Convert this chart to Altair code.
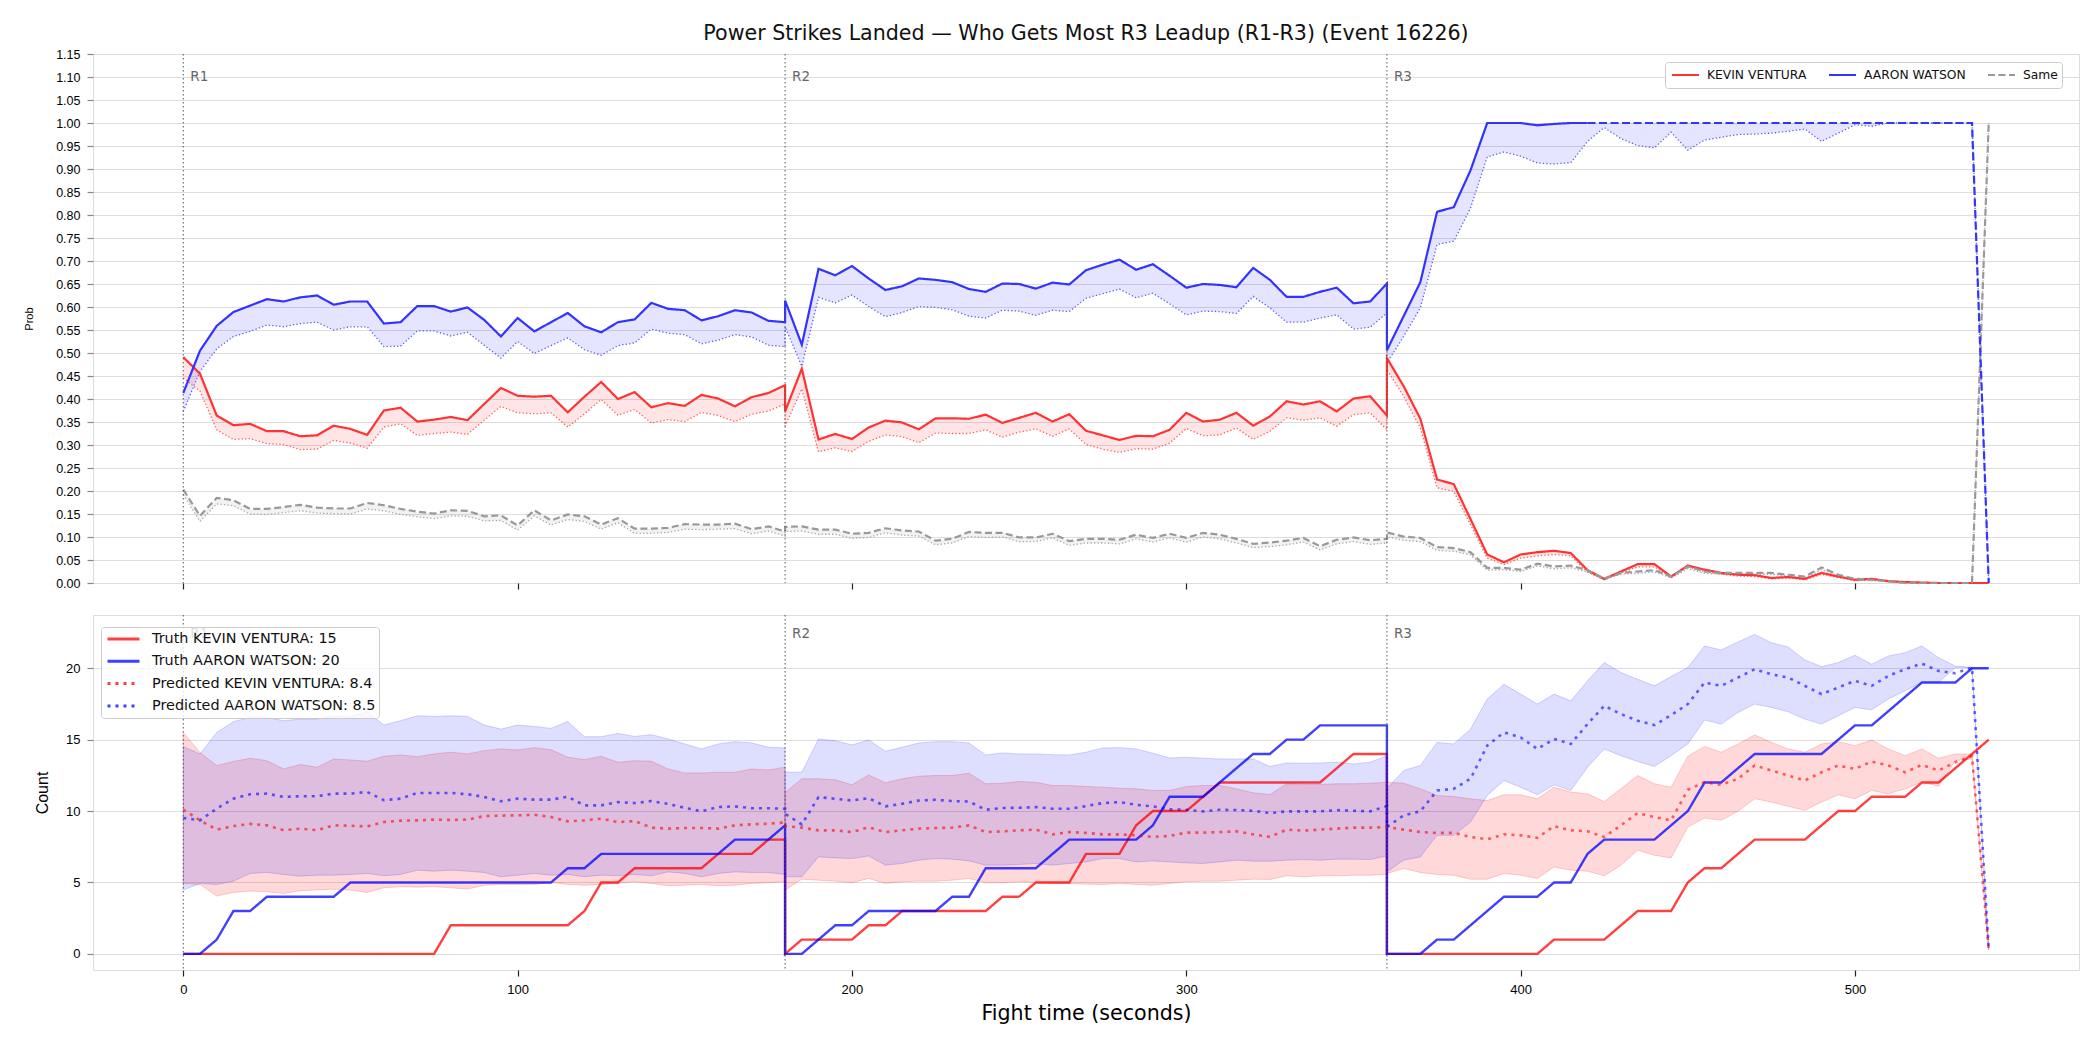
import altair as alt
import pandas as pd

TITLE = "Power Strikes Landed \u2014 Who Gets Most R3 Leadup (R1-R3) (Event 16226)"
FIGHTER_A = "KEVIN VENTURA"
FIGHTER_B = "AARON WATSON"
SAME = "Same"
ROUND_STARTS = [0, 180, 360]
ROUND_NAMES = ["R1", "R2", "R3"]
SAMPLES_PER_ROUND = 37          # each round sampled 0..180 s every 5 s
STEP_S = 5
X_TICKS = [0, 100, 200, 300, 400, 500]
PROB_TICKS = [round(0.05 * k, 2) for k in range(24)]
COUNT_TICKS = [0, 5, 10, 15, 20]
TAIL_START = 420                # from here on the AARON WATSON probability is drawn dashed

LEG_TRUTH_A = "Truth KEVIN VENTURA: 15"
LEG_TRUTH_B = "Truth AARON WATSON: 20"
LEG_PRED_A = "Predicted KEVIN VENTURA: 8.4"
LEG_PRED_B = "Predicted AARON WATSON: 8.5"

# ---------------- probability panel (R1 | R2 | R3) ----------------
kevin_prob = [
    0.491, 0.455, 0.364, 0.343, 0.346, 0.33, 0.33, 0.319, 0.321, 0.342, 0.335, 0.322, 0.375, 0.381, 0.351, 0.355,
    0.361, 0.354, 0.389, 0.424, 0.407, 0.405, 0.407, 0.371, 0.405, 0.437, 0.4, 0.415, 0.382, 0.391, 0.385, 0.409,
    0.401, 0.384, 0.404, 0.413, 0.43,
    0.373, 0.466, 0.312, 0.324, 0.313, 0.338, 0.353, 0.349, 0.334, 0.358, 0.358, 0.357, 0.366, 0.348, 0.359, 0.37,
    0.351, 0.367, 0.331, 0.321, 0.311, 0.32, 0.319, 0.333, 0.37, 0.351, 0.355, 0.37, 0.342, 0.362, 0.395, 0.388,
    0.395, 0.373, 0.401, 0.406, 0.364,
    0.489, 0.428, 0.357, 0.225, 0.215, 0.139, 0.062, 0.045, 0.062, 0.067, 0.07, 0.065, 0.028, 0.009, 0.025, 0.041,
    0.041, 0.014, 0.038, 0.029, 0.022, 0.018, 0.017, 0.011, 0.013, 0.009, 0.022, 0.014, 0.007, 0.009, 0.004, 0.002,
    0.001, 0.0, 0.0, 0.0, 0.0,
]
kevin_prob_low = [
    0.446, 0.417, 0.333, 0.312, 0.314, 0.303, 0.301, 0.29, 0.291, 0.31, 0.304, 0.293, 0.339, 0.346, 0.321, 0.325,
    0.328, 0.323, 0.354, 0.384, 0.37, 0.368, 0.37, 0.339, 0.368, 0.399, 0.365, 0.377, 0.348, 0.355, 0.351, 0.371,
    0.364, 0.351, 0.367, 0.374, 0.389,
    0.341, 0.422, 0.285, 0.294, 0.286, 0.308, 0.322, 0.318, 0.305, 0.326, 0.325, 0.325, 0.333, 0.317, 0.328, 0.335,
    0.319, 0.335, 0.301, 0.291, 0.284, 0.292, 0.291, 0.304, 0.336, 0.32, 0.322, 0.337, 0.312, 0.33, 0.359, 0.354,
    0.359, 0.341, 0.366, 0.37, 0.333,
    0.464, 0.406, 0.337, 0.207, 0.199, 0.127, 0.054, 0.04, 0.054, 0.059, 0.062, 0.059, 0.024, 0.007, 0.022, 0.035,
    0.035, 0.012, 0.035, 0.025, 0.019, 0.015, 0.014, 0.009, 0.011, 0.007, 0.019, 0.012, 0.005, 0.007, 0.003, 0.001,
    0.0, 0.0, 0.0, 0.0, 0.0,
]
aaron_prob = [
    0.413, 0.505, 0.559, 0.589, 0.603, 0.617, 0.612, 0.621, 0.625, 0.605, 0.612, 0.612, 0.564, 0.567, 0.602, 0.602,
    0.59, 0.599, 0.572, 0.536, 0.576, 0.547, 0.567, 0.587, 0.558, 0.545, 0.567, 0.573, 0.609, 0.596, 0.593, 0.571,
    0.58, 0.593, 0.588, 0.57, 0.567,
    0.614, 0.518, 0.683, 0.669, 0.689, 0.662, 0.637, 0.645, 0.662, 0.659, 0.654, 0.639, 0.633, 0.651, 0.65, 0.64,
    0.653, 0.649, 0.68, 0.692, 0.703, 0.681, 0.693, 0.668, 0.642, 0.65, 0.648, 0.643, 0.685, 0.659, 0.622, 0.622,
    0.633, 0.642, 0.608, 0.612, 0.651,
    0.506, 0.58, 0.654, 0.807, 0.817, 0.897, 1.0, 1.0, 1.0, 0.995, 0.998, 1.0, 1.0, 1.0, 1.0, 1.0,
    1.0, 1.0, 1.0, 1.0, 1.0, 1.0, 1.0, 1.0, 1.0, 1.0, 1.0, 1.0, 1.0, 1.0, 1.0, 1.0,
    1.0, 1.0, 1.0, 1.0, 0.0,
]
aaron_prob_low = [
    0.373, 0.46, 0.509, 0.536, 0.547, 0.561, 0.557, 0.564, 0.567, 0.55, 0.557, 0.557, 0.514, 0.515, 0.548, 0.548,
    0.537, 0.545, 0.517, 0.489, 0.525, 0.499, 0.516, 0.533, 0.507, 0.495, 0.516, 0.522, 0.552, 0.543, 0.54, 0.52,
    0.528, 0.54, 0.535, 0.517, 0.514,
    0.557, 0.471, 0.621, 0.609, 0.626, 0.601, 0.579, 0.588, 0.601, 0.599, 0.594, 0.58, 0.576, 0.593, 0.591, 0.582,
    0.593, 0.59, 0.619, 0.629, 0.639, 0.62, 0.63, 0.607, 0.583, 0.591, 0.59, 0.586, 0.623, 0.598, 0.567, 0.567,
    0.576, 0.583, 0.552, 0.556, 0.587,
    0.478, 0.536, 0.598, 0.736, 0.743, 0.815, 0.926, 0.937, 0.928, 0.913, 0.911, 0.914, 0.96, 0.99, 0.966, 0.951,
    0.946, 0.98, 0.941, 0.963, 0.969, 0.975, 0.976, 0.978, 0.982, 0.987, 0.96, 0.978, 0.996, 0.993, 1.0, 1.0,
    1.0, 1.0, 1.0, 1.0, 0.0,
]
same_prob = [
    0.203, 0.146, 0.185, 0.18, 0.161, 0.161, 0.165, 0.17, 0.164, 0.162, 0.162, 0.174, 0.169, 0.161, 0.155, 0.151,
    0.158, 0.157, 0.145, 0.147, 0.125, 0.158, 0.136, 0.149, 0.145, 0.127, 0.141, 0.118, 0.118, 0.12, 0.128, 0.127,
    0.127, 0.129, 0.117, 0.123, 0.112,
    0.122, 0.123, 0.116, 0.116, 0.107, 0.109, 0.119, 0.114, 0.112, 0.092, 0.096, 0.111, 0.109, 0.109, 0.099, 0.099,
    0.107, 0.091, 0.096, 0.096, 0.094, 0.105, 0.098, 0.107, 0.098, 0.109, 0.105, 0.096, 0.085, 0.088, 0.092, 0.098,
    0.08, 0.094, 0.099, 0.093, 0.096,
    0.11, 0.101, 0.098, 0.078, 0.076, 0.067, 0.033, 0.033, 0.029, 0.042, 0.036, 0.038, 0.028, 0.009, 0.022, 0.025,
    0.028, 0.014, 0.036, 0.025, 0.022, 0.022, 0.022, 0.022, 0.018, 0.014, 0.034, 0.018, 0.009, 0.007, 0.004, 0.0,
    0.0, 0.0, 0.0, 0.0, 1.0,
]
same_prob_low = [
    0.192, 0.134, 0.172, 0.168, 0.15, 0.149, 0.153, 0.157, 0.152, 0.151, 0.15, 0.161, 0.157, 0.149, 0.144, 0.14,
    0.146, 0.145, 0.135, 0.136, 0.115, 0.146, 0.126, 0.138, 0.134, 0.117, 0.131, 0.108, 0.108, 0.11, 0.117, 0.116,
    0.117, 0.118, 0.107, 0.113, 0.102,
    0.112, 0.113, 0.106, 0.106, 0.097, 0.099, 0.109, 0.104, 0.102, 0.083, 0.087, 0.101, 0.099, 0.1, 0.09, 0.09,
    0.098, 0.082, 0.087, 0.087, 0.085, 0.096, 0.089, 0.098, 0.089, 0.1, 0.096, 0.087, 0.077, 0.079, 0.083, 0.089,
    0.072, 0.085, 0.09, 0.084, 0.087,
    0.1, 0.093, 0.09, 0.071, 0.069, 0.061, 0.028, 0.029, 0.025, 0.037, 0.031, 0.033, 0.024, 0.007, 0.019, 0.021,
    0.024, 0.011, 0.031, 0.021, 0.019, 0.019, 0.019, 0.019, 0.015, 0.011, 0.029, 0.015, 0.007, 0.005, 0.003, 0.0,
    0.0, 0.0, 0.0, 0.0, 1.0,
]

# ---------------- count panel (R1 | R2 | R3) ----------------
truth_a = [
    0, 0, 0, 0, 0, 0, 0, 0, 0, 0, 0, 0, 0, 0, 0, 0, 2, 2, 2, 2, 2, 2, 2, 2, 3, 5, 5, 6, 6, 6, 6, 6, 7, 7, 7, 8, 8,
    0, 1, 1, 1, 1, 2, 2, 3, 3, 3, 3, 3, 3, 4, 4, 5, 5, 5, 7, 7, 7, 9, 10, 10, 10, 11, 12, 12, 12, 12, 12, 12, 12, 13, 14, 14, 14,
    0, 0, 0, 0, 0, 0, 0, 0, 0, 0, 1, 1, 1, 1, 2, 3, 3, 3, 5, 6, 6, 7, 8, 8, 8, 8, 9, 10, 10, 11, 11, 11, 12, 12, 13, 14, 15,
]
truth_b = [
    0, 0, 1, 3, 3, 4, 4, 4, 4, 4, 5, 5, 5, 5, 5, 5, 5, 5, 5, 5, 5, 5, 5, 6, 6, 7, 7, 7, 7, 7, 7, 7, 7, 8, 8, 8, 9,
    0, 0, 1, 2, 2, 3, 3, 3, 3, 3, 4, 4, 6, 6, 6, 6, 7, 8, 8, 8, 8, 8, 9, 11, 11, 11, 12, 13, 14, 14, 15, 15, 16, 16, 16, 16, 16,
    0, 0, 0, 1, 1, 2, 3, 4, 4, 4, 5, 5, 7, 8, 8, 8, 8, 9, 10, 12, 12, 13, 14, 14, 14, 14, 14, 15, 16, 16, 17, 18, 19, 19, 19, 20, 20,
]
pred_a = [
    10.1, 9.35, 8.7, 8.95, 9.1, 9.0, 8.66, 8.77, 8.66, 9.0, 8.97, 8.92, 9.23, 9.33, 9.35, 9.4, 9.38, 9.4, 9.65, 9.68,
    9.7, 9.74, 9.58, 9.28, 9.35, 9.47, 9.23, 9.3, 8.84, 8.77, 8.81, 8.81, 8.77, 9.0, 9.07, 9.12, 9.2,
    8.95, 8.84, 8.65, 8.65, 8.53, 8.86, 8.53, 8.65, 8.77, 8.81, 8.84, 9.0, 8.53, 8.58, 8.65, 8.7, 8.37, 8.53, 8.47, 8.37,
    8.37, 8.3, 8.19, 8.26, 8.49, 8.49, 8.53, 8.58, 8.37, 8.19, 8.7, 8.63, 8.7, 8.77, 8.84, 8.84, 8.88,
    8.88, 8.7, 8.53, 8.47, 8.47, 8.19, 8.02, 8.37, 8.3, 8.12, 8.95, 8.65, 8.58, 8.19, 9.0, 9.86, 9.58, 9.35, 11.49, 12.02,
    11.84, 12.26, 13.19, 12.84, 12.49, 12.14, 12.72, 13.19, 12.95, 13.47, 13.19, 12.72, 13.23, 12.84, 13.42, 13.84, 0.3,
]
pred_b = [
    9.52, 9.35, 10.17, 10.87, 11.18, 11.22, 10.99, 11.04, 11.04, 11.22, 11.22, 11.34, 10.76, 10.87, 11.27, 11.27, 11.27,
    11.18, 10.99, 10.69, 10.87, 10.8, 10.8, 11.0, 10.4, 10.4, 10.63, 10.56, 10.7, 10.5, 10.23, 9.98, 10.28, 10.33, 10.2,
    10.2, 10.16,
    9.81, 9.07, 10.98, 10.86, 10.74, 10.91, 10.33, 10.51, 10.74, 10.79, 10.7, 10.67, 10.09, 10.21, 10.23, 10.28, 10.16,
    10.16, 10.35, 10.56, 10.63, 10.44, 10.33, 10.12, 10.09, 9.98, 10.09, 10.07, 10.02, 9.86, 9.98, 9.98, 9.98, 10.07,
    10.02, 9.98, 10.35,
    8.88, 9.7, 9.98, 11.44, 11.56, 12.26, 14.58, 15.51, 15.16, 14.35, 15.05, 14.7, 16.09, 17.37, 16.79, 16.33, 16.02,
    16.72, 17.49, 19.0, 18.77, 19.35, 19.93, 19.58, 19.35, 18.77, 18.19, 18.65, 19.12, 18.77, 19.47, 19.93, 20.33,
    19.81, 19.65, 20.05, 0.3,
]
pred_a_hi = [
    15.5, 14.1, 13.19, 13.47, 13.7, 13.53, 12.95, 13.26, 13.07, 13.65, 13.58, 13.49, 13.84, 13.93, 13.81, 14.0, 14.12,
    14.0, 14.23, 14.35, 14.28, 14.44, 14.3, 13.77, 13.6, 13.84, 13.42, 13.53, 13.49, 12.95, 12.67, 12.67, 12.72, 12.72,
    12.95, 12.88, 13.07,
    11.3, 12.26, 12.26, 12.19, 11.84, 12.53, 11.98, 12.26, 12.44, 12.49, 12.49, 12.65, 11.91, 11.95, 12.07, 12.02, 11.79,
    11.79, 11.72, 11.67, 11.6, 11.56, 11.44, 11.44, 11.72, 11.79, 11.79, 11.56, 11.28, 11.16, 11.91, 11.86, 11.86,
    11.91, 11.91, 11.95, 12.02,
    12.02, 11.95, 11.56, 11.09, 11.02, 10.86, 10.74, 11.14, 11.14, 10.86, 11.67, 11.33, 11.21, 10.67, 11.56, 12.49,
    11.91, 11.67, 13.84, 14.53, 14.12, 14.7, 15.33, 14.81, 14.35, 14.12, 14.7, 14.86, 14.58, 14.98, 14.35, 13.88,
    14.35, 13.7, 14.0, 14.0, 0.3,
]
pred_a_lo = [
    4.93, 4.86, 4.05, 4.3, 4.4, 4.35, 4.23, 4.42, 4.47, 4.53, 4.47, 4.3, 4.63, 4.7, 4.67, 4.7, 4.63, 4.53, 4.81, 4.86,
    4.86, 4.86, 5.0, 4.86, 4.81, 4.86, 4.93, 5.05, 4.93, 4.77, 4.81, 4.86, 4.77, 4.81, 4.93, 4.98, 5.05,
    4.47, 5.23, 5.16, 5.09, 4.98, 5.28, 4.93, 5.05, 5.09, 5.09, 5.16, 5.28, 4.98, 4.98, 5.05, 5.0, 4.93, 4.93, 4.88,
    4.86, 4.93, 4.86, 4.81, 4.93, 5.05, 5.09, 5.09, 5.16, 5.23, 5.21, 5.47, 5.4, 5.47, 5.47, 5.51, 5.51, 5.56,
    5.63, 5.98, 5.7, 5.56, 5.51, 5.23, 5.23, 5.63, 5.51, 5.28, 6.09, 5.86, 5.79, 5.47, 6.21, 7.26, 6.91, 6.72, 8.88,
    9.51, 9.35, 9.98, 10.86, 10.63, 10.33, 10.05, 10.63, 11.14, 10.86, 11.44, 11.21, 11.56, 12.02, 11.74, 13.53, 13.65,
    0.3,
]
pred_b_hi = [
    14.53, 14.0, 15.51, 16.26, 16.56, 16.56, 16.33, 16.44, 16.44, 16.67, 16.63, 16.95, 16.02, 16.33, 16.67, 16.63,
    16.67, 16.63, 16.02, 15.74, 16.02, 15.93, 15.79, 16.28, 15.21, 15.21, 15.44, 15.23, 15.35, 15.05, 14.7, 14.35,
    14.7, 14.86, 14.77, 14.47, 14.42,
    12.72, 12.72, 15.05, 14.93, 14.63, 14.98, 14.19, 14.47, 14.77, 14.86, 14.86, 14.77, 13.93, 14.07, 14.0, 14.0, 13.95,
    13.93, 14.12, 14.42, 14.44, 14.35, 14.05, 13.72, 13.77, 13.7, 13.65, 13.65, 13.65, 13.12, 13.37, 13.35, 13.37,
    13.42, 13.3, 13.42, 13.88,
    11.56, 12.84, 13.19, 14.81, 14.7, 15.74, 17.84, 18.88, 18.19, 17.49, 18.19, 17.72, 19.12, 20.4, 19.7, 19.23, 18.77,
    19.42, 20.05, 21.56, 21.28, 21.84, 22.37, 21.79, 21.49, 20.58, 20.12, 20.4, 20.91, 20.28, 20.86, 21.09, 21.56,
    20.74, 20.16, 20.05, 0.3,
]
pred_b_lo = [
    4.47, 4.93, 4.86, 5.09, 5.63, 5.7, 5.56, 5.44, 5.51, 5.51, 5.56, 5.63, 5.47, 5.56, 5.86, 5.79, 5.86, 5.79, 5.7,
    5.4, 5.51, 5.63, 5.51, 5.56, 5.4, 5.51, 5.47, 5.56, 5.47, 5.74, 5.63, 5.4, 5.63, 5.74, 5.7, 5.7, 5.56,
    5.4, 5.4, 6.79, 6.72, 6.67, 6.86, 6.21, 6.33, 6.56, 6.67, 6.63, 6.51, 6.21, 6.21, 6.26, 6.33, 6.21, 6.33, 6.44,
    6.67, 6.67, 6.44, 6.51, 6.44, 6.37, 6.33, 6.44, 6.56, 6.49, 6.49, 6.56, 6.6, 6.56, 6.63, 6.63, 6.6, 6.86,
    5.74, 6.56, 6.79, 8.3, 8.3, 9.23, 11.09, 12.14, 11.67, 11.14, 11.84, 11.44, 13.07, 14.35, 13.88, 13.47, 13.12,
    13.88, 14.7, 16.37, 16.09, 16.91, 17.49, 17.26, 16.95, 16.44, 16.09, 16.67, 17.26, 17.09, 17.84, 18.42, 19.0,
    19.0, 20.05, 20.05, 0.3,
]

# ---------------- colours / styles ----------------
RED, BLUE, GRAY = "#ff0000", "#0000ff", "#808080"
FONT = "DejaVu Sans"
PLOT_W, TOP_H, BOT_H = 1986, 529, 355

times = [s + STEP_S * k for s in ROUND_STARTS for k in range(SAMPLES_PER_ROUND)]
round_of = [n for n in ROUND_NAMES for _ in range(SAMPLES_PER_ROUND)]


def frame(values, **extra):
    d = pd.DataFrame({"i": range(len(values)), "t": times, "round": round_of, "v": values})
    for k, val in extra.items():
        d[k] = val
    return d


def band(lo, hi):
    return pd.DataFrame({"t": times, "round": round_of, "lo": lo, "hi": hi})


XS = alt.Scale(domain=[-27, 567], nice=False, zero=False)


def x_enc(field="t:Q", labels=True):
    return alt.X(field, scale=XS, axis=alt.Axis(
        values=X_TICKS, labels=labels, title="Fight time (seconds)" if labels else None,
        grid=False, domain=False, tickSize=6, tickWidth=1.2, tickColor="#222", labelFontSize=13,
        labelPadding=7, titleFontSize=20.6, titlePadding=7, titleFontWeight="normal", titleFont=FONT))


Y_TOP_SCALE = alt.Scale(domain=[0, 1.15], nice=False, zero=False)
Y_TOP_AXIS = alt.Axis(values=PROB_TICKS, format=".2f", title="Prob", titleFontSize=11, titleFontWeight="normal",
                      titleAngle=270, titleX=-64, titleY=TOP_H / 2, titleBaseline="middle", titleAlign="center",
                      grid=True, domain=False, tickSize=6, tickWidth=1.2, labelFontSize=12.5, labelPadding=7)
Y_BOT_SCALE = alt.Scale(domain=[-1.13, 23.73], nice=False, zero=False)
Y_BOT_AXIS = alt.Axis(values=COUNT_TICKS, title="Count", titleFontSize=16, titleFontWeight="normal",
                      titleAngle=270, titleX=-51, titleY=BOT_H / 2, titleBaseline="middle", titleAlign="center",
                      grid=True, domain=False, tickSize=6, tickWidth=1.2, labelFontSize=13, labelPadding=7)


def yt(field):
    return alt.Y(field, scale=Y_TOP_SCALE, axis=Y_TOP_AXIS)


def yb(field):
    return alt.Y(field, scale=Y_BOT_SCALE, axis=Y_BOT_AXIS)


rounds_df = pd.DataFrame({"t": ROUND_STARTS, "label": ROUND_NAMES})

# ================= TOP PANEL =================
main_top = pd.concat([
    frame(kevin_prob, series=FIGHTER_A),
    frame(aaron_prob, series=FIGHTER_B),
    frame(same_prob, series=SAME),
])
solid_mask = ~((main_top["series"] == FIGHTER_B) & (main_top["round"] == "R3") & (main_top["t"] > TAIL_START))
main_solid = main_top[solid_mask]
b_all = frame(aaron_prob)
b_tail = b_all[(b_all["round"] == "R3") & (b_all["t"] >= TAIL_START)]

top_legend = alt.Legend(
    title=None, orient="none", legendX=1572, legendY=8, direction="horizontal",
    symbolType="stroke", symbolSize=729, symbolStrokeWidth=2, symbolOffset=2, labelFont=FONT, labelFontSize=12.3,
    labelColor="#111", labelOffset=7, labelLimit=400, columnPadding=19, padding=4, clipHeight=18,
    strokeColor="#cccccc", fillColor="#ffffff", cornerRadius=3)

top_color = alt.Color("series:N", scale=alt.Scale(domain=[FIGHTER_A, FIGHTER_B, SAME],
                                                   range=["#ff3333", "#3333ff", "#999999"]), legend=top_legend)
top_dash = alt.StrokeDash("series:N", scale=alt.Scale(domain=[FIGHTER_A, FIGHTER_B, SAME],
                                                       range=[[1, 0], [1, 0], [7, 3.5]]), legend=top_legend)

top_layers = []
for lo, hi, col in [(kevin_prob_low, kevin_prob, RED), (aaron_prob_low, aaron_prob, BLUE),
                    (same_prob_low, same_prob, GRAY)]:
    top_layers.append(alt.Chart(band(lo, hi)).mark_area(color=col, opacity=0.1).encode(
        x=x_enc(labels=False), y=yt("lo:Q"), y2="hi:Q", detail="round:N"))
for lo, col in [(kevin_prob_low, "#ff5c5c"), (aaron_prob_low, "#5c5cff"), (same_prob_low, "#a6a6a6")]:
    top_layers.append(alt.Chart(frame(lo)).mark_line(color=col, strokeWidth=1.3, strokeDash=[1.3, 2.2]).encode(
        x=x_enc(labels=False), y=yt("v:Q"), order="i:Q"))
top_layers.append(alt.Chart(main_solid).mark_line(strokeWidth=2.2).encode(
    x=x_enc(labels=False), y=yt("v:Q"), color=top_color, strokeDash=top_dash, order="i:Q"))
top_layers.append(alt.Chart(b_tail).mark_line(color="#3333ff", strokeWidth=2.2, strokeDash=[8, 3.5]).encode(
    x=x_enc(labels=False), y=yt("v:Q"), order="i:Q"))
top_layers.append(alt.Chart(rounds_df).mark_rule(color="#555555", strokeWidth=1, strokeDash=[1.5, 2.5]).encode(
    x=x_enc(labels=False)))
top_layers.append(alt.Chart(rounds_df).mark_text(align="left", baseline="middle", dx=7, fontSize=13.5,
                                                 color="#666666", font=FONT).encode(
    x=x_enc(labels=False), y=alt.value(23), text="label:N"))

top = alt.layer(*top_layers).properties(
    width=PLOT_W, height=TOP_H,
    title=alt.TitleParams(TITLE, fontSize=20.6, fontWeight="normal", anchor="middle", frame="group",
                          offset=3.5, color="#111", font=FONT))

# ================= BOTTOM PANEL =================
truth_df = pd.concat([frame(truth_a, leg=LEG_TRUTH_A), frame(truth_b, leg=LEG_TRUTH_B)])
pred_df = pd.concat([frame(pred_a, leg=LEG_PRED_A), frame(pred_b, leg=LEG_PRED_B)])

bot_legend = alt.Legend(
    title=None, orient="none", legendX=8, legendY=12, direction="vertical",
    symbolType="stroke", symbolSize=1024, symbolStrokeWidth=3, symbolOpacity=0.75, symbolOffset=2,
    labelFont=FONT, labelFontSize=14.4, labelColor="#111", labelOffset=11, labelLimit=400, rowPadding=4.3,
    clipHeight=18, padding=3, strokeColor="#cccccc", fillColor="rgba(255,255,255,0.8)", cornerRadius=3)
LEG_DOMAIN = [LEG_TRUTH_A, LEG_TRUTH_B, LEG_PRED_A, LEG_PRED_B]
bot_color = alt.Color("leg:N", scale=alt.Scale(domain=LEG_DOMAIN, range=[RED, BLUE, RED, BLUE]), legend=bot_legend)
bot_dash = alt.StrokeDash("leg:N", scale=alt.Scale(domain=LEG_DOMAIN, range=[[1, 0], [1, 0], [3, 5], [3, 5]]),
                          legend=bot_legend)

bot_layers = []
for lo, hi, col, op in [(pred_a_lo, pred_a_hi, RED, 0.15), (pred_b_lo, pred_b_hi, BLUE, 0.13)]:
    bot_layers.append(alt.Chart(band(lo, hi)).mark_area(
        fill=col, fillOpacity=op, stroke=col, strokeOpacity=op + 0.03, strokeWidth=1).encode(
        x=x_enc(), y=yb("lo:Q"), y2="hi:Q", detail="round:N"))
bot_layers.append(alt.Chart(truth_df).mark_line(strokeWidth=2.4, opacity=0.75).encode(
    x=x_enc(), y=yb("v:Q"), color=bot_color, strokeDash=bot_dash, order="i:Q"))
bot_layers.append(alt.Chart(pred_df).mark_line(strokeWidth=2.6, opacity=0.6).encode(
    x=x_enc(), y=yb("v:Q"), color=bot_color, strokeDash=bot_dash, order="i:Q"))
bot_layers.append(alt.Chart(rounds_df).mark_rule(color="#555555", strokeWidth=1, strokeDash=[1.5, 2.5]).encode(
    x=x_enc()))
bot_layers.append(alt.Chart(rounds_df).mark_text(align="left", baseline="middle", dx=7, fontSize=13.5,
                                                 color="#666666", font=FONT).encode(
    x=x_enc(), y=alt.value(19), text="label:N"))

bottom = alt.layer(*bot_layers).properties(width=PLOT_W, height=BOT_H)

chart = alt.vconcat(top, bottom, spacing=23).resolve_scale(
    color="independent", strokeDash="independent"
).resolve_legend(
    color="independent", strokeDash="independent"
).properties(
    padding={"left": 22, "top": 23, "right": 5, "bottom": 5}
).configure_view(
    stroke="#222222", strokeWidth=1.3
).configure_axis(
    labelFont=FONT, titleFont=FONT, labelColor="#111", titleColor="#111", tickColor="#222",
    gridColor="#e3e3e3", gridWidth=1
).configure(background="white")

chart.save("out.html", embed_options={"renderer": "svg", "actions": False})
